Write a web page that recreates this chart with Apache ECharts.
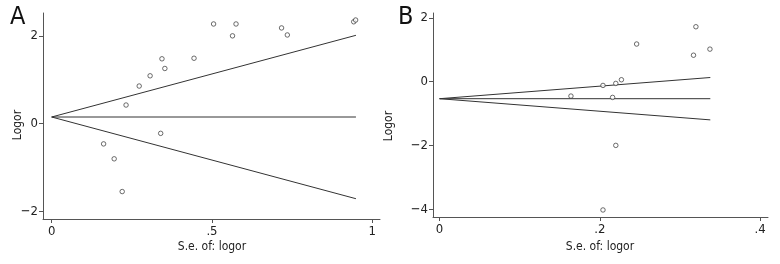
<!DOCTYPE html>
<html><head><meta charset="utf-8">
<script src="https://cdn.jsdelivr.net/npm/echarts@6/dist/echarts.min.js"></script>
<style>html,body{margin:0;padding:0;background:#fff}#c{width:780px;height:264px}</style>
</head><body><div id="c"></div>
<script>
// Panel A data: [s.e. of logor, logor]
const seA = [0.232, 0.273, 0.307, 0.344, 0.353, 0.444, 0.505, 0.564, 0.575, 0.717, 0.735, 0.942, 0.948, 0.340, 0.162, 0.195, 0.220];
const logorA = [0.425, 0.857, 1.09, 1.477, 1.257, 1.49, 2.27, 2.0, 2.27, 2.18, 2.02, 2.32, 2.36, -0.22, -0.46, -0.80, -1.545];
const pooledA = 0.152, maxSeA = 0.949;
// Panel B data
const seB = [0.164, 0.204, 0.216, 0.220, 0.227, 0.246, 0.317, 0.320, 0.3375, 0.220, 0.204];
const logorB = [-0.448, -0.115, -0.49, -0.052, 0.0625, 1.18, 0.83, 1.72, 1.02, -1.99, -4.01];
const pooledB = -0.53, maxSeB = 0.338;
// tick labels
const xTicksA = [0, 0.5, 1], yTicksA = [-2, 0, 2];
const xTicksB = [0, 0.2, 0.4], yTicksB = [-4, -2, 0, 2];

const FONT = "'Liberation Sans Narrow','DejaVu Sans Condensed',sans-serif";
const fmt = v => (v === 0 ? '0' : (Math.abs(v) < 1 ? (v < 0 ? '\u2212' : '') + String(Math.abs(v)).replace(/^0/, '') : (v < 0 ? '\u2212' + Math.abs(v) : String(v))));

function axisX(idx, min, max, ticks) {
  return {
    gridIndex: idx, type: 'value', min, max, splitLine: {show: false},
    axisLine: {show: true, onZero: false, lineStyle: {color: '#555', width: 1}},
    axisTick: {show: true, length: 4, inside: false, customValues: ticks, lineStyle: {color: '#555'}},
    axisLabel: {customValues: ticks, formatter: fmt, fontFamily: FONT, fontSize: 13, color: '#222', margin: 6}
  };
}
function axisY(idx, min, max, ticks) {
  return {
    gridIndex: idx, type: 'value', min, max, splitLine: {show: false},
    axisLine: {show: true, onZero: false, lineStyle: {color: '#555', width: 1}},
    axisTick: {show: true, length: 4, inside: false, customValues: ticks, lineStyle: {color: '#555'}},
    axisLabel: {customValues: ticks, formatter: fmt, fontFamily: FONT, fontSize: 13, color: '#222', margin: 5}
  };
}
function zip(a, b) { return a.map((v, i) => [v, b[i]]); }
function funnel(idx, pooled, maxSe) {
  const ls = {color: '#333', width: 1};
  const base = {type: 'line', xAxisIndex: idx, yAxisIndex: idx, symbol: 'none', lineStyle: ls, silent: true, animation: false};
  return [
    Object.assign({}, base, {data: [[0, pooled], [maxSe, pooled]]}),
    Object.assign({}, base, {data: [[0, pooled], [maxSe, pooled + 1.96 * maxSe]]}),
    Object.assign({}, base, {data: [[0, pooled], [maxSe, pooled - 1.96 * maxSe]]})
  ];
}
function pts(idx, se, lo) {
  return {type: 'scatter', xAxisIndex: idx, yAxisIndex: idx, data: zip(se, lo), symbol: 'circle', symbolSize: 4.5,
    itemStyle: {color: '#fff', borderColor: '#333', borderWidth: 0.9}, animation: false, z: 5};
}

const chart = echarts.init(document.getElementById('c'), null, {renderer: 'canvas'});
chart.setOption({
  animation: false,
  grid: [
    {left: 43, right: 400, top: 13, bottom: 45},
    {left: 433, right: 12, top: 13, bottom: 47}
  ],
  xAxis: [axisX(0, -0.027, 1.024, xTicksA), axisX(1, -0.0082, 0.41, xTicksB)],
  yAxis: [axisY(0, -2.17, 2.52, yTicksA), axisY(1, -4.23, 2.15, yTicksB)],
  series: [].concat(funnel(0, pooledA, maxSeA), [pts(0, seA, logorA)], funnel(1, pooledB, maxSeB), [pts(1, seB, logorB)]),
  graphic: [
    {type: 'text', left: 10, top: 5, style: {text: 'A', font: '25px ' + FONT, fill: '#111'}},
    {type: 'text', left: 398, top: 5, style: {text: 'B', font: '25px ' + FONT, fill: '#111'}},
    {type: 'text', x: 18, y: 125, rotation: Math.PI / 2, style: {text: 'Logor', font: '12px ' + FONT, fill: '#222', align: 'center', verticalAlign: 'middle'}},
    {type: 'text', x: 389, y: 126, rotation: Math.PI / 2, style: {text: 'Logor', font: '12px ' + FONT, fill: '#222', align: 'center', verticalAlign: 'middle'}},
    {type: 'text', x: 212, y: 247, style: {text: 'S.e. of: logor', font: '12px ' + FONT, fill: '#222', align: 'center', verticalAlign: 'middle'}},
    {type: 'text', x: 600, y: 247, style: {text: 'S.e. of: logor', font: '12px ' + FONT, fill: '#222', align: 'center', verticalAlign: 'middle'}}
  ]
});
</script></body></html>
